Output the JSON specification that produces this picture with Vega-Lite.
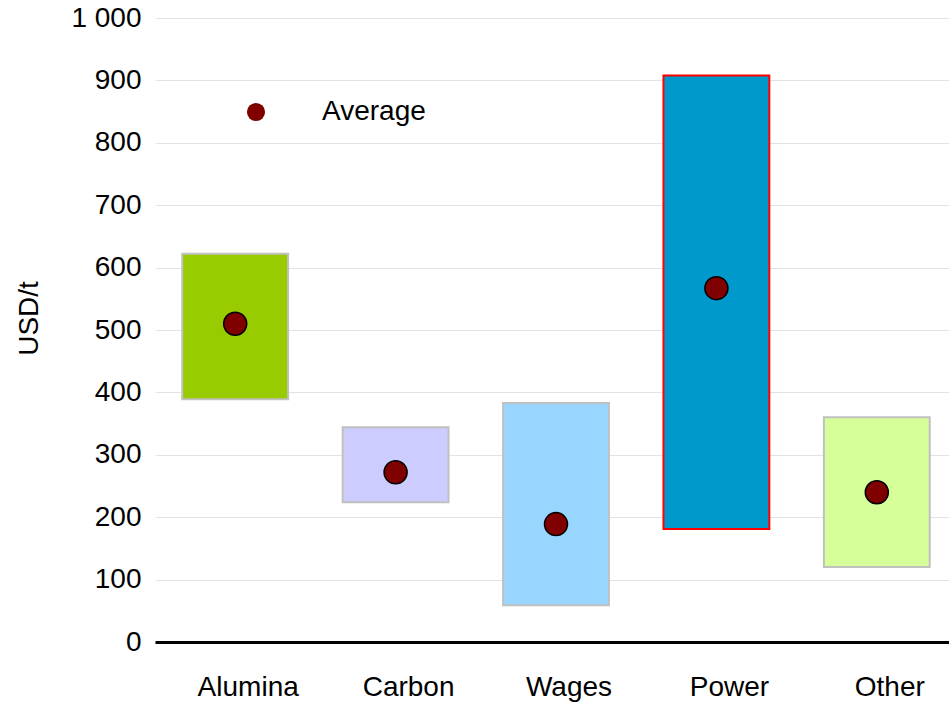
{
  "$schema": "https://vega.github.io/schema/vega-lite/v6.json",
  "width": 802,
  "height": 624,
  "autosize": {"type": "none"},
  "padding": {"left": 155, "top": 18, "right": 0, "bottom": 66},
  "background": "white",
  "config": {
    "view": {"stroke": null},
    "font": "Liberation Sans"
  },
  "data": {
    "values": [
      {"cat": "Alumina", "low": 389, "high": 622, "avg": 510, "series": "Average"},
      {"cat": "Carbon", "low": 224, "high": 344, "avg": 272, "series": "Average"},
      {"cat": "Wages", "low": 59, "high": 383, "avg": 189, "series": "Average"},
      {"cat": "Power", "low": 181, "high": 908, "avg": 567, "series": "Average"},
      {"cat": "Other", "low": 120, "high": 360, "avg": 240, "series": "Average"}
    ]
  },
  "encoding": {
    "x": {
      "field": "cat",
      "type": "nominal",
      "sort": null,
      "scale": {"paddingInner": 0.34, "paddingOuter": 0.17},
      "axis": {
        "title": null,
        "labelAngle": 0,
        "labelFontSize": 28,
        "labelColor": "black",
        "labelPadding": 31,
        "labelOffset": 13,
        "labelOverlap": false,
        "ticks": false,
        "domainColor": "black",
        "domainWidth": 3
      }
    }
  },
  "layer": [
    {
      "mark": {"type": "bar", "strokeWidth": 2},
      "encoding": {
        "y": {
          "field": "low",
          "type": "quantitative",
          "scale": {"domain": [0, 1000], "nice": false},
          "axis": {
            "title": "USD/t",
            "titleFontSize": 28,
            "titleFontWeight": "normal",
            "titleColor": "black",
            "titlePadding": 27,
            "titleY": 300,
            "labelFontSize": 28,
            "labelColor": "black",
            "labelPadding": 14,
            "labelOverlap": false,
            "values": [0, 100, 200, 300, 400, 500, 600, 700, 800, 900, 1000],
            "labelExpr": "datum.value == 1000 ? '1 000' : datum.label",
            "ticks": false,
            "domain": false,
            "gridColor": "#e3e3e3",
            "gridWidth": 1
          }
        },
        "y2": {"field": "high"},
        "fill": {
          "field": "cat",
          "type": "nominal",
          "scale": {
            "domain": ["Alumina", "Carbon", "Wages", "Power", "Other"],
            "range": ["#99cc00", "#ccccff", "#99d6ff", "#0099cc", "#d6ff99"]
          },
          "legend": null
        },
        "stroke": {
          "field": "cat",
          "type": "nominal",
          "scale": {
            "domain": ["Alumina", "Carbon", "Wages", "Power", "Other"],
            "range": ["#c0c0c0", "#c0c0c0", "#c0c0c0", "#ff0000", "#c0c0c0"]
          },
          "legend": null
        }
      }
    },
    {
      "mark": {"type": "point", "filled": true, "fill": "#800000", "stroke": "black", "strokeWidth": 1.5, "size": 530, "opacity": 1},
      "encoding": {
        "y": {"field": "avg", "type": "quantitative"},
        "shape": {
          "field": "series",
          "type": "nominal",
          "scale": {"domain": ["Average"], "range": ["circle"]},
          "legend": {
            "title": null,
            "orient": "none",
            "legendX": 87,
            "legendY": 80,
            "padding": 0,
            "symbolSize": 330,
            "symbolFillColor": "#800000",
            "symbolStrokeColor": "black",
            "symbolStrokeWidth": 1.5,
            "symbolOpacity": 1,
            "labelFontSize": 28,
            "labelColor": "black",
            "labelOffset": 52,
            "encode": {
              "symbols": {
                "update": {
                  "fill": {"value": "#800000"},
                  "stroke": {"value": "black"},
                  "strokeWidth": {"value": 1.5},
                  "size": {"value": 300},
                  "opacity": {"value": 1}
                }
              }
            }
          }
        }
      }
    }
  ]
}
